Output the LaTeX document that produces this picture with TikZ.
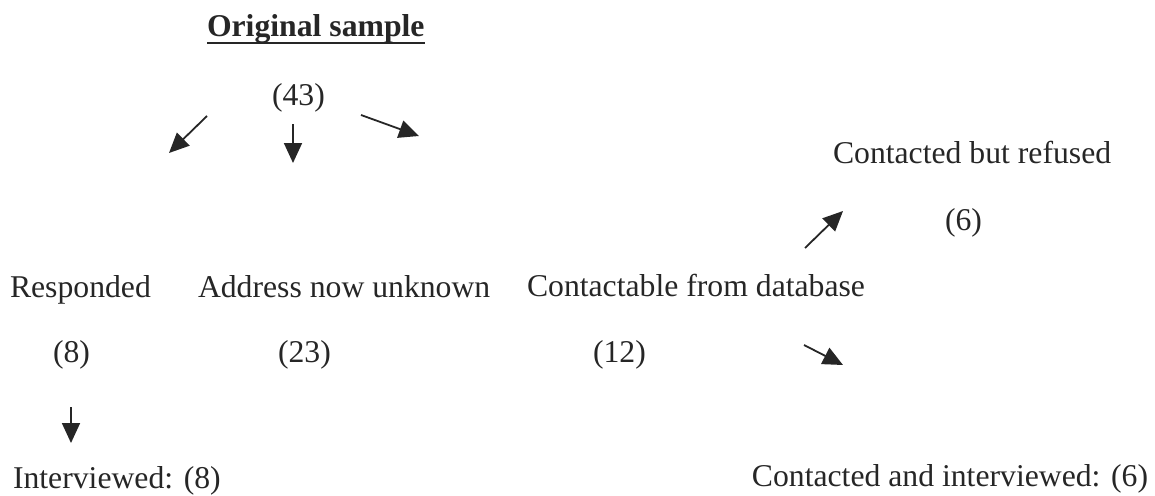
\documentclass[tikz,border=0pt]{standalone}
\usepackage{fontspec}
\setmainfont{Liberation Serif}
\usetikzlibrary{arrows.meta}
\begin{document}
\begin{tikzpicture}[x=1pt,y=-1pt,
  lbl/.style={inner sep=0pt,outer sep=0pt,font=\fontsize{31.7}{38}\selectfont,text=black!85},
  flow/.style={line width=1.8pt,draw=black!85,-{Triangle[length=20pt,width=18pt]}}]
\useasboundingbox (0,0) rectangle (1155,495);

% labels
\node[lbl,anchor=base west,font=\fontsize{31.7}{38}\selectfont\bfseries] (title) at (207,37) {Original sample};
\draw[line width=2pt,black!85] ([yshift=-6pt]title.base west) -- ([yshift=-6pt]title.base east);
\node[lbl,anchor=base west] (total) at (272,105) {(43)};

\node[lbl,anchor=base west] (resp) at (10,297) {Responded};
\node[lbl,anchor=base west] (addr) at (198,297) {Address now unknown};
\node[lbl,anchor=base west] (cont) at (527,296) {Contactable from database};

\node[lbl,anchor=base west] (refu) at (833,163) {Contacted but refused};
\node[lbl,anchor=base west] (refn) at (945,230) {(6)};

\node[lbl,anchor=base west] (respn) at (53,362) {(8)};
\node[lbl,anchor=base west] (addrn) at (278,362) {(23)};
\node[lbl,anchor=base west] (contn) at (593,362) {(12)};

\node[lbl,anchor=base west] (intv) at (13,488) {Interviewed: (8)};
\node[lbl,anchor=base east] (cintv) at (1148,486) {Contacted and interviewed: (6)};

% arrow end points
\coordinate (a1s) at (207,116); \coordinate (a1e) at (169,153);
\coordinate (a2s) at (293,124); \coordinate (a2e) at (293,163);
\coordinate (a3s) at (361,115); \coordinate (a3e) at (419,136);
\coordinate (a4s) at (805,248); \coordinate (a4e) at (843,211);
\coordinate (a5s) at (804,345); \coordinate (a5e) at (843,365);
\coordinate (a6s) at (71,407);  \coordinate (a6e) at (71,443);

% arrows
\draw[flow] (a1s) -- (a1e);
\draw[flow] (a2s) -- (a2e);
\draw[flow] (a3s) -- (a3e);
\draw[flow] (a4s) -- (a4e);
\draw[flow] (a5s) -- (a5e);
\draw[flow] (a6s) -- (a6e);
\end{tikzpicture}
\end{document}
